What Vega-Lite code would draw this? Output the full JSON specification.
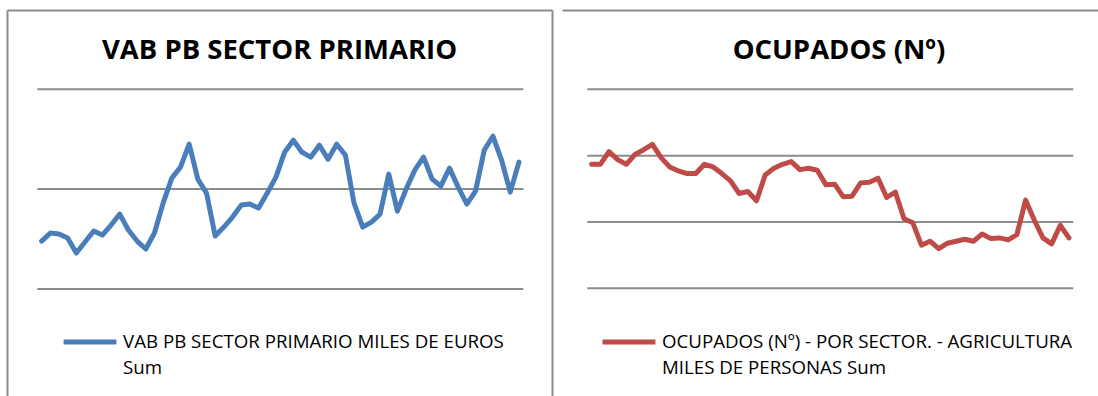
{
  "$schema": "https://vega.github.io/schema/vega-lite/v6.json",
  "padding": {"left": 7, "top": 10, "right": 0, "bottom": 0},
  "spacing": 10,
  "background": "white",
  "config": {
    "view": {"stroke": null},
    "font": "Open Sans",
    "axis": {
      "domain": true,
      "domainColor": "#8c8c8c",
      "domainWidth": 2,
      "labels": false,
      "ticks": false,
      "grid": false,
      "title": null,
      "minExtent": 0,
      "maxExtent": 0
    },
    "legend": {
      "orient": "none",
      "title": null,
      "symbolType": "stroke",
      "symbolSize": 2800,
      "symbolStrokeWidth": 5,
      "labelFont": "Open Sans",
      "labelFontSize": 18.7,
      "labelColor": "#000000",
      "labelLimit": 700,
      "labelOffset": 4
    }
  },
  "resolve": {"scale": {"color": "independent"}, "legend": {"color": "independent"}},
  "hconcat": [
    {
      "width": 545,
      "height": 386,
      "title": {
        "text": "VAB PB SECTOR PRIMARIO",
        "font": "Open Sans",
        "fontSize": 27.5,
        "fontWeight": "bold",
        "color": "#000000",
        "anchor": "middle",
        "baseline": "alphabetic",
        "offset": -52,
        "dy": 24
      },
      "layer": [
        {
          "data": {"values": [{"nivel": 500}, {"nivel": 600}, {"nivel": 700}]},
          "mark": {"type": "rule", "color": "#8c8c8c", "strokeWidth": 2},
          "encoding": {
            "y": {
              "field": "nivel",
              "type": "quantitative",
              "scale": {"domain": [392.8, 779.4], "nice": false, "zero": false},
              "axis": {"orient": "left"}
            },
            "x": {
              "datum": -0.5,
              "type": "quantitative",
              "scale": {"domain": [-3.99, 58.81], "nice": false, "zero": false},
              "axis": {"orient": "top"}
            },
            "x2": {"datum": 55.5}
          }
        },
        {
          "data": {
            "values": [
              {"n": 0, "vab": 548}, {"n": 1, "vab": 556}, {"n": 2, "vab": 555}, {"n": 3, "vab": 551},
              {"n": 4, "vab": 536}, {"n": 5, "vab": 547}, {"n": 6, "vab": 558}, {"n": 7, "vab": 554},
              {"n": 8, "vab": 564}, {"n": 9, "vab": 575}, {"n": 10, "vab": 559}, {"n": 11, "vab": 548},
              {"n": 12, "vab": 540}, {"n": 13, "vab": 556}, {"n": 14, "vab": 586}, {"n": 15, "vab": 611},
              {"n": 16, "vab": 622}, {"n": 17, "vab": 645}, {"n": 18, "vab": 610}, {"n": 19, "vab": 596},
              {"n": 20, "vab": 553}, {"n": 21, "vab": 562}, {"n": 22, "vab": 572}, {"n": 23, "vab": 584},
              {"n": 24, "vab": 585}, {"n": 25, "vab": 581}, {"n": 26, "vab": 596}, {"n": 27, "vab": 612},
              {"n": 28, "vab": 637}, {"n": 29, "vab": 649}, {"n": 30, "vab": 637}, {"n": 31, "vab": 632},
              {"n": 32, "vab": 644}, {"n": 33, "vab": 630}, {"n": 34, "vab": 645}, {"n": 35, "vab": 634},
              {"n": 36, "vab": 586}, {"n": 37, "vab": 562}, {"n": 38, "vab": 567}, {"n": 39, "vab": 575},
              {"n": 40, "vab": 615}, {"n": 41, "vab": 578}, {"n": 42, "vab": 600}, {"n": 43, "vab": 619},
              {"n": 44, "vab": 632}, {"n": 45, "vab": 610}, {"n": 46, "vab": 603}, {"n": 47, "vab": 621},
              {"n": 48, "vab": 602}, {"n": 49, "vab": 585}, {"n": 50, "vab": 598}, {"n": 51, "vab": 639},
              {"n": 52, "vab": 653}, {"n": 53, "vab": 629}, {"n": 54, "vab": 597}, {"n": 55, "vab": 627}
            ]
          },
          "transform": [{"calculate": "'VAB PB SECTOR PRIMARIO MILES DE EUROS Sum'", "as": "serie"}],
          "mark": {"type": "line", "strokeWidth": 5, "strokeJoin": "round", "strokeCap": "round"},
          "encoding": {
            "x": {"field": "n", "type": "quantitative", "axis": {"orient": "top"}},
            "y": {"field": "vab", "type": "quantitative", "axis": {"orient": "right"}},
            "color": {
              "field": "serie",
              "type": "nominal",
              "scale": {"range": ["#4A7EBB"]},
              "legend": {
                "legendX": 54,
                "legendY": 303,
                "labelExpr": "[replace(datum.label, ' Sum', ''), 'Sum']",
                "encode": {"labels": {"update": {"lineHeight": {"value": 26}}}}
              }
            }
          }
        }
      ],
      "resolve": {"axis": {"y": "independent"}}
    },
    {
      "width": 536,
      "height": 386,
      "title": {
        "text": "OCUPADOS (Nº)",
        "font": "Open Sans",
        "fontSize": 27.5,
        "fontWeight": "bold",
        "color": "#000000",
        "anchor": "middle",
        "baseline": "alphabetic",
        "offset": -52,
        "dy": 24,
        "dx": 9
      },
      "layer": [
        {
          "data": {"values": [{"nivel": 700}, {"nivel": 800}, {"nivel": 900}, {"nivel": 1000}]},
          "mark": {"type": "rule", "color": "#8c8c8c", "strokeWidth": 2},
          "encoding": {
            "y": {
              "field": "nivel",
              "type": "quantitative",
              "scale": {"domain": [537.7, 1119.6], "nice": false, "zero": false},
              "axis": {"orient": "left"}
            },
            "x": {
              "datum": -0.5,
              "type": "quantitative",
              "scale": {"domain": [-3.415, 58.346], "nice": false, "zero": false},
              "axis": {"orient": "top"}
            },
            "x2": {"datum": 55.5}
          }
        },
        {
          "data": {
            "values": [
              {"n": 0, "ocupados": 887}, {"n": 1, "ocupados": 887}, {"n": 2, "ocupados": 906}, {"n": 3, "ocupados": 894},
              {"n": 4, "ocupados": 887}, {"n": 5, "ocupados": 902}, {"n": 6, "ocupados": 909}, {"n": 7, "ocupados": 917},
              {"n": 8, "ocupados": 897}, {"n": 9, "ocupados": 883}, {"n": 10, "ocupados": 877}, {"n": 11, "ocupados": 873},
              {"n": 12, "ocupados": 873}, {"n": 13, "ocupados": 887}, {"n": 14, "ocupados": 883}, {"n": 15, "ocupados": 873},
              {"n": 16, "ocupados": 862}, {"n": 17, "ocupados": 843}, {"n": 18, "ocupados": 846}, {"n": 19, "ocupados": 832},
              {"n": 20, "ocupados": 871}, {"n": 21, "ocupados": 881}, {"n": 22, "ocupados": 887}, {"n": 23, "ocupados": 891},
              {"n": 24, "ocupados": 879}, {"n": 25, "ocupados": 881}, {"n": 26, "ocupados": 878}, {"n": 27, "ocupados": 856},
              {"n": 28, "ocupados": 857}, {"n": 29, "ocupados": 838}, {"n": 30, "ocupados": 839}, {"n": 31, "ocupados": 859},
              {"n": 32, "ocupados": 860}, {"n": 33, "ocupados": 866}, {"n": 34, "ocupados": 837}, {"n": 35, "ocupados": 845},
              {"n": 36, "ocupados": 805}, {"n": 37, "ocupados": 799}, {"n": 38, "ocupados": 765}, {"n": 39, "ocupados": 771},
              {"n": 40, "ocupados": 760}, {"n": 41, "ocupados": 768}, {"n": 42, "ocupados": 771}, {"n": 43, "ocupados": 774},
              {"n": 44, "ocupados": 771}, {"n": 45, "ocupados": 782}, {"n": 46, "ocupados": 775}, {"n": 47, "ocupados": 776},
              {"n": 48, "ocupados": 773}, {"n": 49, "ocupados": 781}, {"n": 50, "ocupados": 833}, {"n": 51, "ocupados": 803},
              {"n": 52, "ocupados": 776}, {"n": 53, "ocupados": 767}, {"n": 54, "ocupados": 795}, {"n": 55, "ocupados": 776}
            ]
          },
          "transform": [{"calculate": "'OCUPADOS (Nº) - POR SECTOR. - AGRICULTURA MILES DE PERSONAS Sum'", "as": "serie"}],
          "mark": {"type": "line", "strokeWidth": 5, "strokeJoin": "round", "strokeCap": "round"},
          "encoding": {
            "x": {"field": "n", "type": "quantitative", "axis": {"orient": "top"}},
            "y": {"field": "ocupados", "type": "quantitative", "axis": null},
            "color": {
              "field": "serie",
              "type": "nominal",
              "scale": {"range": ["#BE4B48"]},
              "legend": {
                "legendX": 38,
                "legendY": 303,
                "labelExpr": "[substring(datum.label, 0, indexof(datum.label, ' MILES')), substring(datum.label, indexof(datum.label, ' MILES') + 1)]",
                "encode": {"labels": {"update": {"lineHeight": {"value": 26}}}}
              }
            }
          }
        }
      ]
    }
  ]
}
